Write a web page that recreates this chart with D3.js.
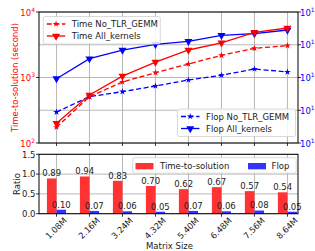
<!DOCTYPE html>
<html><head><meta charset="utf-8">
<script src="https://cdn.jsdelivr.net/npm/d3@7"></script>
<style>body{margin:0;background:#fff}svg{display:block;font-family:"DejaVu Sans",sans-serif}</style>
</head><body>
<script>
const categories = ["1.08M","2.16M","3.24M","4.32M","5.40M","6.48M","7.56M","8.64M"];
const timeNoTLR = [174, 509, 854, 1184, 1607, 2182, 2790, 3060];
const timeAll = [200, 540, 1050, 1720, 2630, 3370, 4900, 5700];
const flopNoTLR = [8.8e14, 2.6e15, 3.7e15, 5.5e15, 8.4e15, 1.17e16, 1.82e16, 1.47e16];
const flopAll = [9.2e15, 3.75e16, 6.9e16, 1.03e17, 1.27e17, 1.94e17, 2.18e17, 2.82e17];
const timeRatio = [0.89, 0.94, 0.83, 0.70, 0.62, 0.67, 0.57, 0.54];
const flopRatio = [0.10, 0.07, 0.06, 0.05, 0.07, 0.06, 0.08, 0.05];
const leftTicks = [1e2, 1e3, 1e4];
const rightTicks = [1e14, 1e15, 1e16, 1e17, 1e18];
const ratioTicks = [0, 0.5, 1.0, 1.5];

const W = 315, H = 251;
const RED = "#ff0000", BLUE = "#0000ff", BARRED = "#ff3333", BARBLUE = "#3333ff", GRID = "#b0b0b0";
const FS = 8.5;
const svg = d3.select("body").append("svg").attr("width", W).attr("height", H);

const L = 39, R = 298;
const top1 = 12, bot1 = 143, top2 = 154.3, bot2 = 213.7;
const idx = d3.range(categories.length);
const x = d3.scaleLinear().domain([-0.53, 7.32]).range([L, R]);
const yL = d3.scaleLog().domain([1e2, 1e4]).range([bot1, top1]);
const yR = d3.scaleLog().domain([1e14, 1e18]).range([bot1, top1]);
const yB = d3.scaleLinear().domain([0, 1.5]).range([bot2, top2]);

// ---------- top panel grid ----------
const g1 = svg.append("g");
g1.selectAll(".vg").data(idx).join("line")
  .attr("x1", i => x(i)).attr("x2", i => x(i)).attr("y1", top1).attr("y2", bot1)
  .attr("stroke", GRID).attr("stroke-width", 0.9);
g1.selectAll(".hg").data(rightTicks).join("line")
  .attr("x1", L).attr("x2", R).attr("y1", d => yR(d)).attr("y2", d => yR(d))
  .attr("stroke", GRID).attr("stroke-width", 0.9);

function supLabel(sel, base, exp) {
  sel.append("tspan").text(base);
  sel.append("tspan").text(exp).attr("font-size", 6).attr("dy", -4);
}

// left axis ticks/labels
leftTicks.forEach(t => {
  g1.append("line").attr("x1", L - 3).attr("x2", L).attr("y1", yL(t)).attr("y2", yL(t)).attr("stroke", "#000").attr("stroke-width", 0.8);
  const tx = g1.append("text").attr("x", L - 4).attr("y", yL(t) + 3.5).attr("text-anchor", "end")
    .attr("font-size", FS).attr("fill", RED);
  supLabel(tx, "10", String(Math.round(Math.log10(t))));
});
// right axis ticks/labels
rightTicks.forEach(t => {
  g1.append("line").attr("x1", R).attr("x2", R + 3).attr("y1", yR(t)).attr("y2", yR(t)).attr("stroke", "#000").attr("stroke-width", 0.8);
  const tx = g1.append("text").attr("x", R + 2).attr("y", yR(t) + 3.5).attr("text-anchor", "start")
    .attr("font-size", FS).attr("fill", BLUE);
  supLabel(tx, "10", String(Math.round(Math.log10(t))));
});
g1.append("text").attr("transform", `translate(15,${(top1 + bot1) / 2}) rotate(-90)`)
  .attr("text-anchor", "middle").attr("dominant-baseline", "middle")
  .attr("font-size", FS).attr("fill", RED).text("Time-to-solution (second)");
g1.selectAll(".xt").data(idx).join("line")
  .attr("x1", i => x(i)).attr("x2", i => x(i)).attr("y1", bot1).attr("y2", bot1 + 3)
  .attr("stroke", "#000").attr("stroke-width", 0.8);

// series
const star = d3.symbol().type(d3.symbolStar).size(14);
const tri = d3.symbol().type(d3.symbolTriangle).size(28);
function series(vals, scale, color, dashed, marker, rot) {
  const line = d3.line().x((d, i) => x(i)).y(d => scale(d));
  g1.append("path").datum(vals).attr("d", line).attr("fill", "none")
    .attr("stroke", color).attr("stroke-width", 1.3).attr("stroke-dasharray", dashed ? "5,2.6" : null);
  g1.selectAll(null).data(vals).join("path")
    .attr("d", marker).attr("fill", color)
    .attr("transform", (d, i) => `translate(${x(i)},${scale(d)}) rotate(${rot})`);
}
series(flopNoTLR, yR, BLUE, true, star, 0);
series(flopAll, yR, BLUE, false, tri, 180);
series(timeNoTLR, yL, RED, true, star, 0);
series(timeAll, yL, RED, false, tri, 180);

g1.append("rect").attr("x", L).attr("y", top1).attr("width", R - L).attr("height", bot1 - top1)
  .attr("fill", "none").attr("stroke", "#000").attr("stroke-width", 1);

// legends top
function lineLegend(x0, y0, w, h, items) {
  const g = svg.append("g");
  g.append("rect").attr("x", x0).attr("y", y0).attr("width", w).attr("height", h).attr("rx", 2)
    .attr("fill", "#fff").attr("fill-opacity", 0.85).attr("stroke", "#d0d0d0").attr("stroke-width", 0.8);
  items.forEach((it, k) => {
    const yy = y0 + 7.5 + k * 12;
    g.append("line").attr("x1", x0 + 3.5).attr("x2", x0 + 22).attr("y1", yy).attr("y2", yy)
      .attr("stroke", it.color).attr("stroke-width", 1.3).attr("stroke-dasharray", it.dashed ? "5,2.6" : null);
    g.append("path").attr("d", it.marker).attr("fill", it.color)
      .attr("transform", `translate(${x0 + 12.75},${yy}) rotate(${it.rot})`);
    g.append("text").attr("x", x0 + 28.5).attr("y", yy + 3.2).attr("font-size", FS).attr("fill", "#222").text(it.label);
  });
}
lineLegend(43.3, 16.5, 117, 27.5, [
  {label: "Time No_TLR_GEMM", color: RED, dashed: true, marker: star(), rot: 0},
  {label: "Time All_kernels", color: RED, dashed: false, marker: tri(), rot: 180}
]);
lineLegend(177.5, 109, 118, 27.5, [
  {label: "Flop No_TLR_GEMM", color: BLUE, dashed: true, marker: star(), rot: 0},
  {label: "Flop All_kernels", color: BLUE, dashed: false, marker: tri(), rot: 180}
]);

// ---------- bottom panel ----------
const g2 = svg.append("g");
g2.selectAll(".vg2").data(idx).join("line")
  .attr("x1", i => x(i)).attr("x2", i => x(i)).attr("y1", top2).attr("y2", bot2)
  .attr("stroke", GRID).attr("stroke-width", 0.9);
g2.selectAll(".hg2").data(ratioTicks).join("line")
  .attr("x1", L).attr("x2", R).attr("y1", d => yB(d)).attr("y2", d => yB(d))
  .attr("stroke", GRID).attr("stroke-width", 0.9);
const bw = 0.29;
g2.selectAll(".rb").data(timeRatio).join("rect")
  .attr("x", (d, i) => x(i - bw)).attr("width", x(bw) - x(0))
  .attr("y", d => yB(d)).attr("height", d => yB(0) - yB(d)).attr("fill", BARRED);
g2.selectAll(".bb").data(flopRatio).join("rect")
  .attr("x", (d, i) => x(i)).attr("width", x(bw) - x(0))
  .attr("y", d => yB(d)).attr("height", d => yB(0) - yB(d)).attr("fill", BARBLUE);
g2.selectAll(".rl").data(timeRatio).join("text")
  .attr("x", (d, i) => x(i - bw / 2)).attr("y", d => yB(d) - 2.2).attr("text-anchor", "middle")
  .attr("font-size", FS).attr("fill", "#222").text(d => d.toFixed(2));
g2.selectAll(".bl").data(flopRatio).join("text")
  .attr("x", (d, i) => x(i + bw / 2)).attr("y", d => yB(d) - 2.2).attr("text-anchor", "middle")
  .attr("font-size", FS).attr("fill", "#222").text(d => d.toFixed(2));

ratioTicks.forEach(t => {
  g2.append("line").attr("x1", L - 3).attr("x2", L).attr("y1", yB(t)).attr("y2", yB(t)).attr("stroke", "#000").attr("stroke-width", 0.8);
  g2.append("text").attr("x", L - 3.5).attr("y", yB(t) + 3.2).attr("text-anchor", "end")
    .attr("font-size", FS).attr("fill", "#222").text(t.toFixed(1));
});
g2.append("text").attr("transform", `translate(17.5,${(top2 + bot2) / 2}) rotate(-90)`)
  .attr("text-anchor", "middle").attr("dominant-baseline", "middle")
  .attr("font-size", FS).attr("fill", "#222").text("Ratio");
g2.selectAll(".xt2").data(idx).join("line")
  .attr("x1", i => x(i)).attr("x2", i => x(i)).attr("y1", bot2).attr("y2", bot2 + 3)
  .attr("stroke", "#000").attr("stroke-width", 0.8);
g2.selectAll(".xl").data(categories).join("text")
  .attr("transform", (d, i) => `translate(${x(i)},${228.5}) rotate(-45)`)
  .attr("text-anchor", "middle").attr("dominant-baseline", "middle")
  .attr("font-size", FS).attr("fill", "#222").text(d => d);
g2.append("text").attr("x", 169.5).attr("y", 248.5).attr("text-anchor", "middle")
  .attr("font-size", FS).attr("fill", "#222").text("Matrix Size");
g2.append("rect").attr("x", L).attr("y", top2).attr("width", R - L).attr("height", bot2 - top2)
  .attr("fill", "none").attr("stroke", "#000").attr("stroke-width", 1);

// bottom legend
const lg = svg.append("g");
lg.append("rect").attr("x", 132.7).attr("y", 157.7).attr("width", 163.5).attr("height", 15.5).attr("rx", 2)
  .attr("fill", "#fff").attr("fill-opacity", 0.85).attr("stroke", "#d0d0d0").attr("stroke-width", 0.8);
[{label: "Time-to-solution", color: BARRED, px: 135.5, tx: 160},
 {label: "Flop", color: BARBLUE, px: 248, tx: 271.5}].forEach(it => {
  lg.append("rect").attr("x", it.px).attr("y", 163).attr("width", 18).attr("height", 6.3).attr("fill", it.color);
  lg.append("text").attr("x", it.tx).attr("y", 169.2).attr("font-size", FS).attr("fill", "#222").text(it.label);
});
</script>
</body></html>
